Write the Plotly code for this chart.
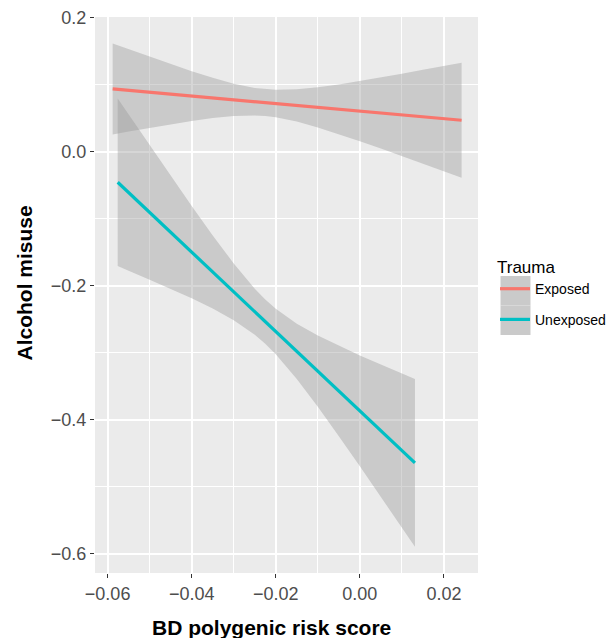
import plotly.graph_objects as go

# ---- data ----
trauma_groups = ["Exposed", "Unexposed"]
line_colors = ["#F8766D", "#00BFC4"]

exposed_x = [-0.0588, -0.055, -0.05, -0.045, -0.04, -0.035, -0.03, -0.025, -0.0225,
             -0.02, -0.015, -0.01, -0.005, 0.0, 0.005, 0.01, 0.015, 0.02, 0.0242]
exposed_fit = [0.0935, 0.0914, 0.0886, 0.0857, 0.0829, 0.0801, 0.0773, 0.0745, 0.0731,
               0.0717, 0.0689, 0.0660, 0.0632, 0.0604, 0.0576, 0.0548, 0.0520, 0.0492, 0.0468]
exposed_upper = [0.1614, 0.1529, 0.1417, 0.1306, 0.1200, 0.1101, 0.1014, 0.0950, 0.0931,
                 0.0922, 0.0930, 0.0960, 0.1003, 0.1053, 0.1107, 0.1163, 0.1220, 0.1278, 0.1327]
exposed_lower = [0.0256, 0.0299, 0.0355, 0.0408, 0.0458, 0.0501, 0.0532, 0.0540, 0.0531,
                 0.0512, 0.0448, 0.0360, 0.0261, 0.0155, 0.0045, -0.0067, -0.0180, -0.0294, -0.0391]

unexposed_x = [-0.0576, -0.055, -0.05, -0.045, -0.04, -0.035, -0.03, -0.025, -0.0225,
               -0.02, -0.015, -0.01, -0.005, 0.0, 0.005, 0.01, 0.0131]
unexposed_fit = [-0.0457, -0.0611, -0.0907, -0.1203, -0.1499, -0.1795, -0.2091, -0.2387, -0.2535,
                 -0.2683, -0.2979, -0.3274, -0.3570, -0.3866, -0.4162, -0.4458, -0.4642]
unexposed_upper = [0.0793, 0.0554, 0.0095, -0.0360, -0.0810, -0.1249, -0.1668, -0.2044, -0.2205,
                   -0.2344, -0.2567, -0.2742, -0.2895, -0.3039, -0.3176, -0.3310, -0.3392]
unexposed_lower = [-0.1707, -0.1776, -0.1909, -0.2046, -0.2188, -0.2341, -0.2514, -0.2730, -0.2865,
                   -0.3022, -0.3391, -0.3806, -0.4245, -0.4693, -0.5148, -0.5606, -0.5892]

x_tick_vals = [-0.06, -0.04, -0.02, 0.00, 0.02]
y_tick_vals = [-0.6, -0.4, -0.2, 0.0, 0.2]
x_title = "BD polygenic risk score"
y_title = "Alcohol misuse"
legend_title = "Trauma"

series = [
    (exposed_x, exposed_fit, exposed_upper, exposed_lower),
    (unexposed_x, unexposed_fit, unexposed_upper, unexposed_lower),
]

FONT = "Liberation Sans, Arial, Helvetica, sans-serif"
fig = go.Figure()

# confidence bands
for name, (xs, fit, up, lo) in zip(trauma_groups, series):
    fig.add_trace(go.Scatter(
        x=list(xs) + list(xs[::-1]),
        y=list(up) + list(lo[::-1]),
        fill="toself", fillcolor="rgba(153,153,153,0.4)",
        line=dict(width=0), mode="lines",
        hoverinfo="skip", showlegend=False, legendgroup=name,
    ))

# fitted lines
for name, color, (xs, fit, up, lo) in zip(trauma_groups, line_colors, series):
    fig.add_trace(go.Scatter(
        x=xs, y=fit, mode="lines", name=name, legendgroup=name,
        line=dict(color=color, width=3.2),
    ))

W, H = 611, 638
ml, mr, mt, mb = 95, 133, 17, 65
pw, ph = W - ml - mr, H - mt - mb

def px_x(p):
    return (p - ml) / pw

def px_y(p):
    return (H - mb - p) / ph

# grey legend key backgrounds
for top, bot in [(276, 305.5), (305.5, 335)]:
    fig.add_shape(type="rect", xref="paper", yref="paper",
                  x0=px_x(500.5), x1=px_x(530.5), y0=px_y(bot), y1=px_y(top),
                  fillcolor="#CACACA", line=dict(width=0), layer="above")

# axis titles (placed where the reference puts them)
fig.add_annotation(text="<b>%s</b>" % x_title, xref="paper", yref="paper",
                   x=px_x(271), y=px_y(627), xanchor="center", yanchor="middle",
                   showarrow=False, font=dict(size=21, color="black", family=FONT))
fig.add_annotation(text="<b>%s</b>" % y_title, xref="paper", yref="paper",
                   x=px_x(24), y=px_y(283.5), xanchor="center", yanchor="middle",
                   textangle=-90, showarrow=False,
                   font=dict(size=21, color="black", family=FONT))

fig.update_layout(
    template="none",
    width=W, height=H,
    margin=dict(l=ml, r=mr, t=mt, b=mb, autoexpand=False),
    paper_bgcolor="white", plot_bgcolor="#EBEBEB",
    font=dict(family=FONT, color="#4D4D4D"),
    showlegend=True,
    legend=dict(
        title=dict(text=legend_title, font=dict(size=17, color="black")),
        font=dict(size=14, color="black"),
        x=px_x(495), y=px_y(251), xanchor="left", yanchor="top",
        bgcolor="rgba(0,0,0,0)", tracegroupgap=9.5, itemwidth=30,
    ),
    xaxis=dict(
        range=[-0.0630, 0.0281], tickvals=x_tick_vals, tickformat=".2f",
        automargin=False,
        showgrid=True, gridcolor="white", gridwidth=1.6,
        minor=dict(dtick=0.01, tick0=0, showgrid=True, gridcolor="white", gridwidth=0.8),
        zeroline=False, showline=False,
        ticks="outside", ticklen=4, tickwidth=1.2, tickcolor="#333333",
        tickfont=dict(size=18, color="#4D4D4D"),
    ),
    yaxis=dict(
        range=[-0.6284, 0.2008], tickvals=y_tick_vals, tickformat=".1f",
        ticksuffix="\u00a0\u2009",
        automargin=False,
        showgrid=True, gridcolor="white", gridwidth=1.6,
        minor=dict(dtick=0.1, tick0=0, showgrid=True, gridcolor="white", gridwidth=0.8),
        zeroline=False, showline=False,
        ticks="outside", ticklen=4, tickwidth=1.2, tickcolor="#333333",
        tickfont=dict(size=18, color="#4D4D4D"),
    ),
)

fig.write_html("out.html", config={"displayModeBar": False},
               post_script="document.body.style.margin='0';")
